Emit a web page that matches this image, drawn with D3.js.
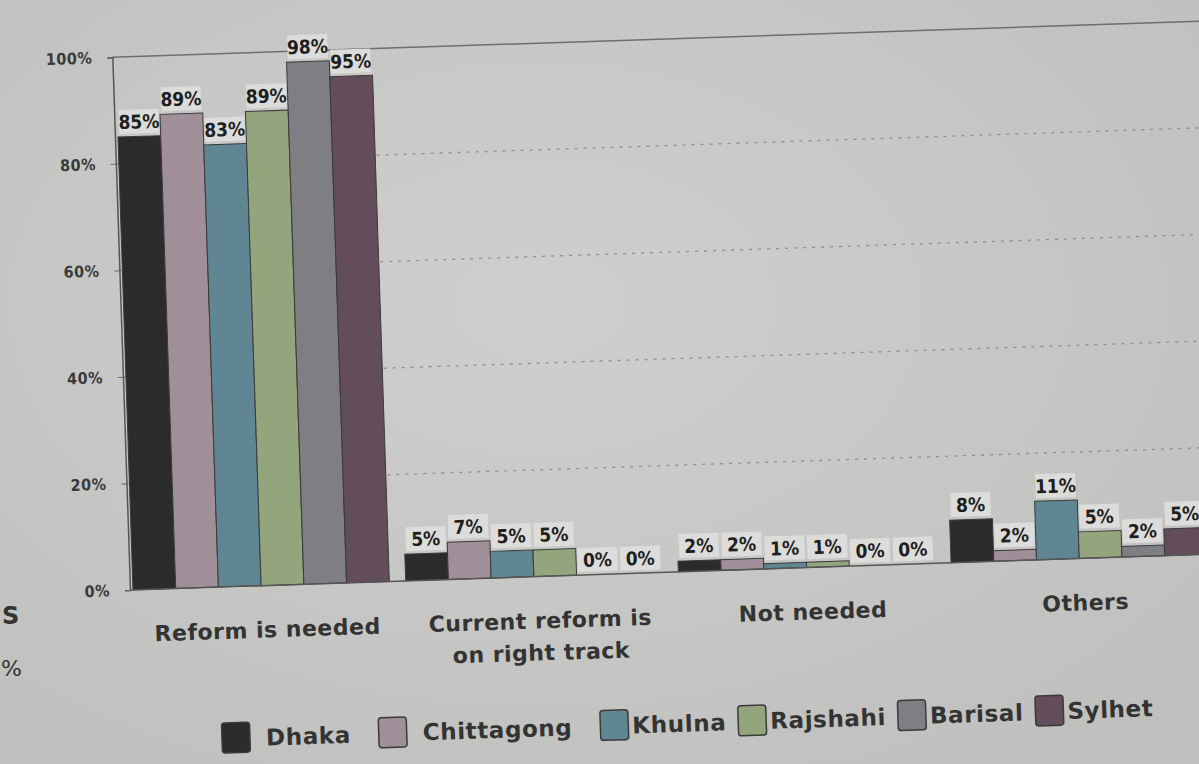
<!DOCTYPE html>
<meta charset="utf-8">
<title>Reform opinion by division</title>
<style>
  body { margin: 0; background: #c8c8c6; }
  svg { display: block; }
</style>
<body>
<div id="viz"></div>
<script src="https://cdnjs.cloudflare.com/ajax/libs/d3/7.8.5/d3.min.js"></script>
<script>

var width = 1199;
var height = 764;

// data
const categories = ["Reform is needed", "Current reform is|on right track", "Not needed", "Others"];
const divisions = ["Dhaka", "Chittagong", "Khulna", "Rajshahi", "Barisal", "Sylhet"];
const colors = ["#2b2b2b", "#a08e98", "#5f8692", "#93a57c", "#7f7e83", "#644d5b"];
const reformNeeded = [85, 89, 83, 89, 98, 95];
const currentTrack = [5, 7, 5, 5, 0, 0];
const notNeeded = [2, 2, 1, 1, 0, 0];
const others = [8, 2, 11, 5, 2, 5];
const yTicks = [0, 20, 40, 60, 80, 100];

const series = [reformNeeded, currentTrack, notNeeded, others];

var svg = d3.select("#viz")
  .append("svg")
  .attr("width", width)
  .attr("height", height);

// paper shading
var defs = svg.append("defs");
var grad = defs.append("radialGradient").attr("id", "paper")
  .attr("cx", "45%").attr("cy", "40%").attr("r", "75%");
grad.append("stop").attr("offset", "0%").attr("stop-color", "#cfcfcd");
grad.append("stop").attr("offset", "100%").attr("stop-color", "#bfbfbd");
svg.append("rect").attr("width", width).attr("height", height).attr("fill", "url(#paper)");

// the photo is tilted a little
var g = svg.append("g").attr("transform", "rotate(-1.9, 130, 590)");

var x0 = d3.scaleBand().domain(categories).range([133, 1208]).paddingInner(0.06).paddingOuter(0);
var x1 = d3.scaleBand().domain(divisions).range([0, x0.bandwidth()]).padding(0);
var y = d3.scaleLinear().domain([0, 100]).range([590, 57]);
var color = d3.scaleOrdinal().domain(divisions).range(colors);

var narrow = "'DejaVu Sans Condensed', 'Liberation Sans Narrow', sans-serif";
var wide = "'DejaVu Sans', Verdana, sans-serif";

// gridlines (dotted)
g.append("g")
  .selectAll("line")
  .data(yTicks.filter(d => d > 0 && d < 100))
  .join("line")
  .attr("x1", 130).attr("x2", 1260)
  .attr("y1", d => y(d)).attr("y2", d => y(d))
  .attr("stroke", "#8e8e8e")
  .attr("stroke-width", 1.3)
  .attr("stroke-dasharray", "3,6");

// frame top
g.append("line")
  .attr("x1", 130).attr("x2", 1260)
  .attr("y1", y(100)).attr("y2", y(100))
  .attr("stroke", "#6e6e6e").attr("stroke-width", 1.5);

// y axis
var yAxis = d3.axisLeft(y).tickValues(yTicks).tickFormat(d => d + "%").tickSize(5).tickPadding(15);
var ya = g.append("g").attr("transform", "translate(130,0)").call(yAxis);
ya.select(".domain").attr("stroke", "#555").attr("stroke-width", 1.5);
ya.selectAll(".tick line").attr("stroke", "#666");
ya.selectAll(".tick text")
  .attr("font-family", narrow)
  .attr("font-size", 16)
  .attr("font-weight", "bold")
  .attr("letter-spacing", 0.5)
  .attr("fill", "#3a3a3a");

// bars
var groups = g.append("g")
  .selectAll("g")
  .data(categories)
  .join("g")
  .attr("transform", d => "translate(" + x0(d) + ",0)");

var bar = groups.selectAll("g")
  .data((c, i) => divisions.map((dv, j) => ({ division: dv, value: series[i][j] })))
  .join("g");

bar.append("rect")
  .attr("x", d => x1(d.division))
  .attr("y", d => y(d.value))
  .attr("width", x1.bandwidth())
  .attr("height", d => Math.max(0, y(0) - y(d.value)))
  .attr("fill", d => color(d.division))
  .attr("stroke", "#3a3a3a")
  .attr("stroke-width", 1);

// data labels with light box behind
var lab = bar.append("g")
  .attr("transform", d => "translate(" + (x1(d.division) + x1.bandwidth() / 2) + "," + (y(d.value) - 3) + ")");

lab.append("rect")
  .attr("x", -20).attr("y", -24)
  .attr("width", 40).attr("height", 24)
  .attr("fill", "#dcdcda");

lab.append("text")
  .attr("text-anchor", "middle")
  .attr("y", -5)
  .attr("font-family", narrow)
  .attr("font-weight", "bold")
  .attr("font-size", 19)
  .attr("fill", "#1e1e1e")
  .text(d => d.value + "%");

// baseline
g.append("line")
  .attr("x1", 130).attr("x2", 1260)
  .attr("y1", y(0)).attr("y2", y(0))
  .attr("stroke", "#555").attr("stroke-width", 1.5);

// category labels
var cat = g.append("g")
  .selectAll("text")
  .data(categories)
  .join("text")
  .attr("x", d => x0(d) + x0.bandwidth() / 2 + 5)
  .attr("y", 642)
  .attr("text-anchor", "middle")
  .attr("font-family", wide)
  .attr("font-weight", "bold")
  .attr("font-size", 22)
  .attr("letter-spacing", 0.5)
  .attr("fill", "#333");

cat.selectAll("tspan")
  .data(d => d.split("|"))
  .join("tspan")
  .attr("x", function () { return d3.select(this.parentNode).attr("x"); })
  .attr("dy", (d, i) => i === 0 ? 0 : 32)
  .text(d => d);

// legend
var legend = g.append("g").attr("transform", "translate(217,741)");
var lx = 0;
divisions.forEach(function (dv, i) {
  var item = legend.append("g").attr("transform", "translate(" + lx + ",0)");
  item.append("rect")
    .attr("x", 0).attr("y", -15)
    .attr("width", 28).attr("height", 30)
    .attr("rx", 3)
    .attr("fill", color(dv))
    .attr("stroke", "#3a3a3a").attr("stroke-width", 1.5);
  var tx = i < 2 ? 44 : 32;
  var t = item.append("text")
    .attr("x", tx)
    .attr("y", 9)
    .attr("font-family", wide)
    .attr("font-weight", "bold")
    .attr("font-size", 23)
    .attr("letter-spacing", 0.6)
    .attr("fill", "#333")
    .text(dv);
  lx += tx + t.node().getComputedTextLength() + (i < 2 ? 28 : 12);
});

// fragments of neighbouring page text
svg.append("text").attr("x", 2).attr("y", 624)
  .attr("font-family", wide).attr("font-weight", "bold").attr("font-size", 24).attr("fill", "#333").text("S");
svg.append("text").attr("x", 1).attr("y", 676)
  .attr("font-family", wide).attr("font-size", 22).attr("fill", "#333").text("%");

</script>
